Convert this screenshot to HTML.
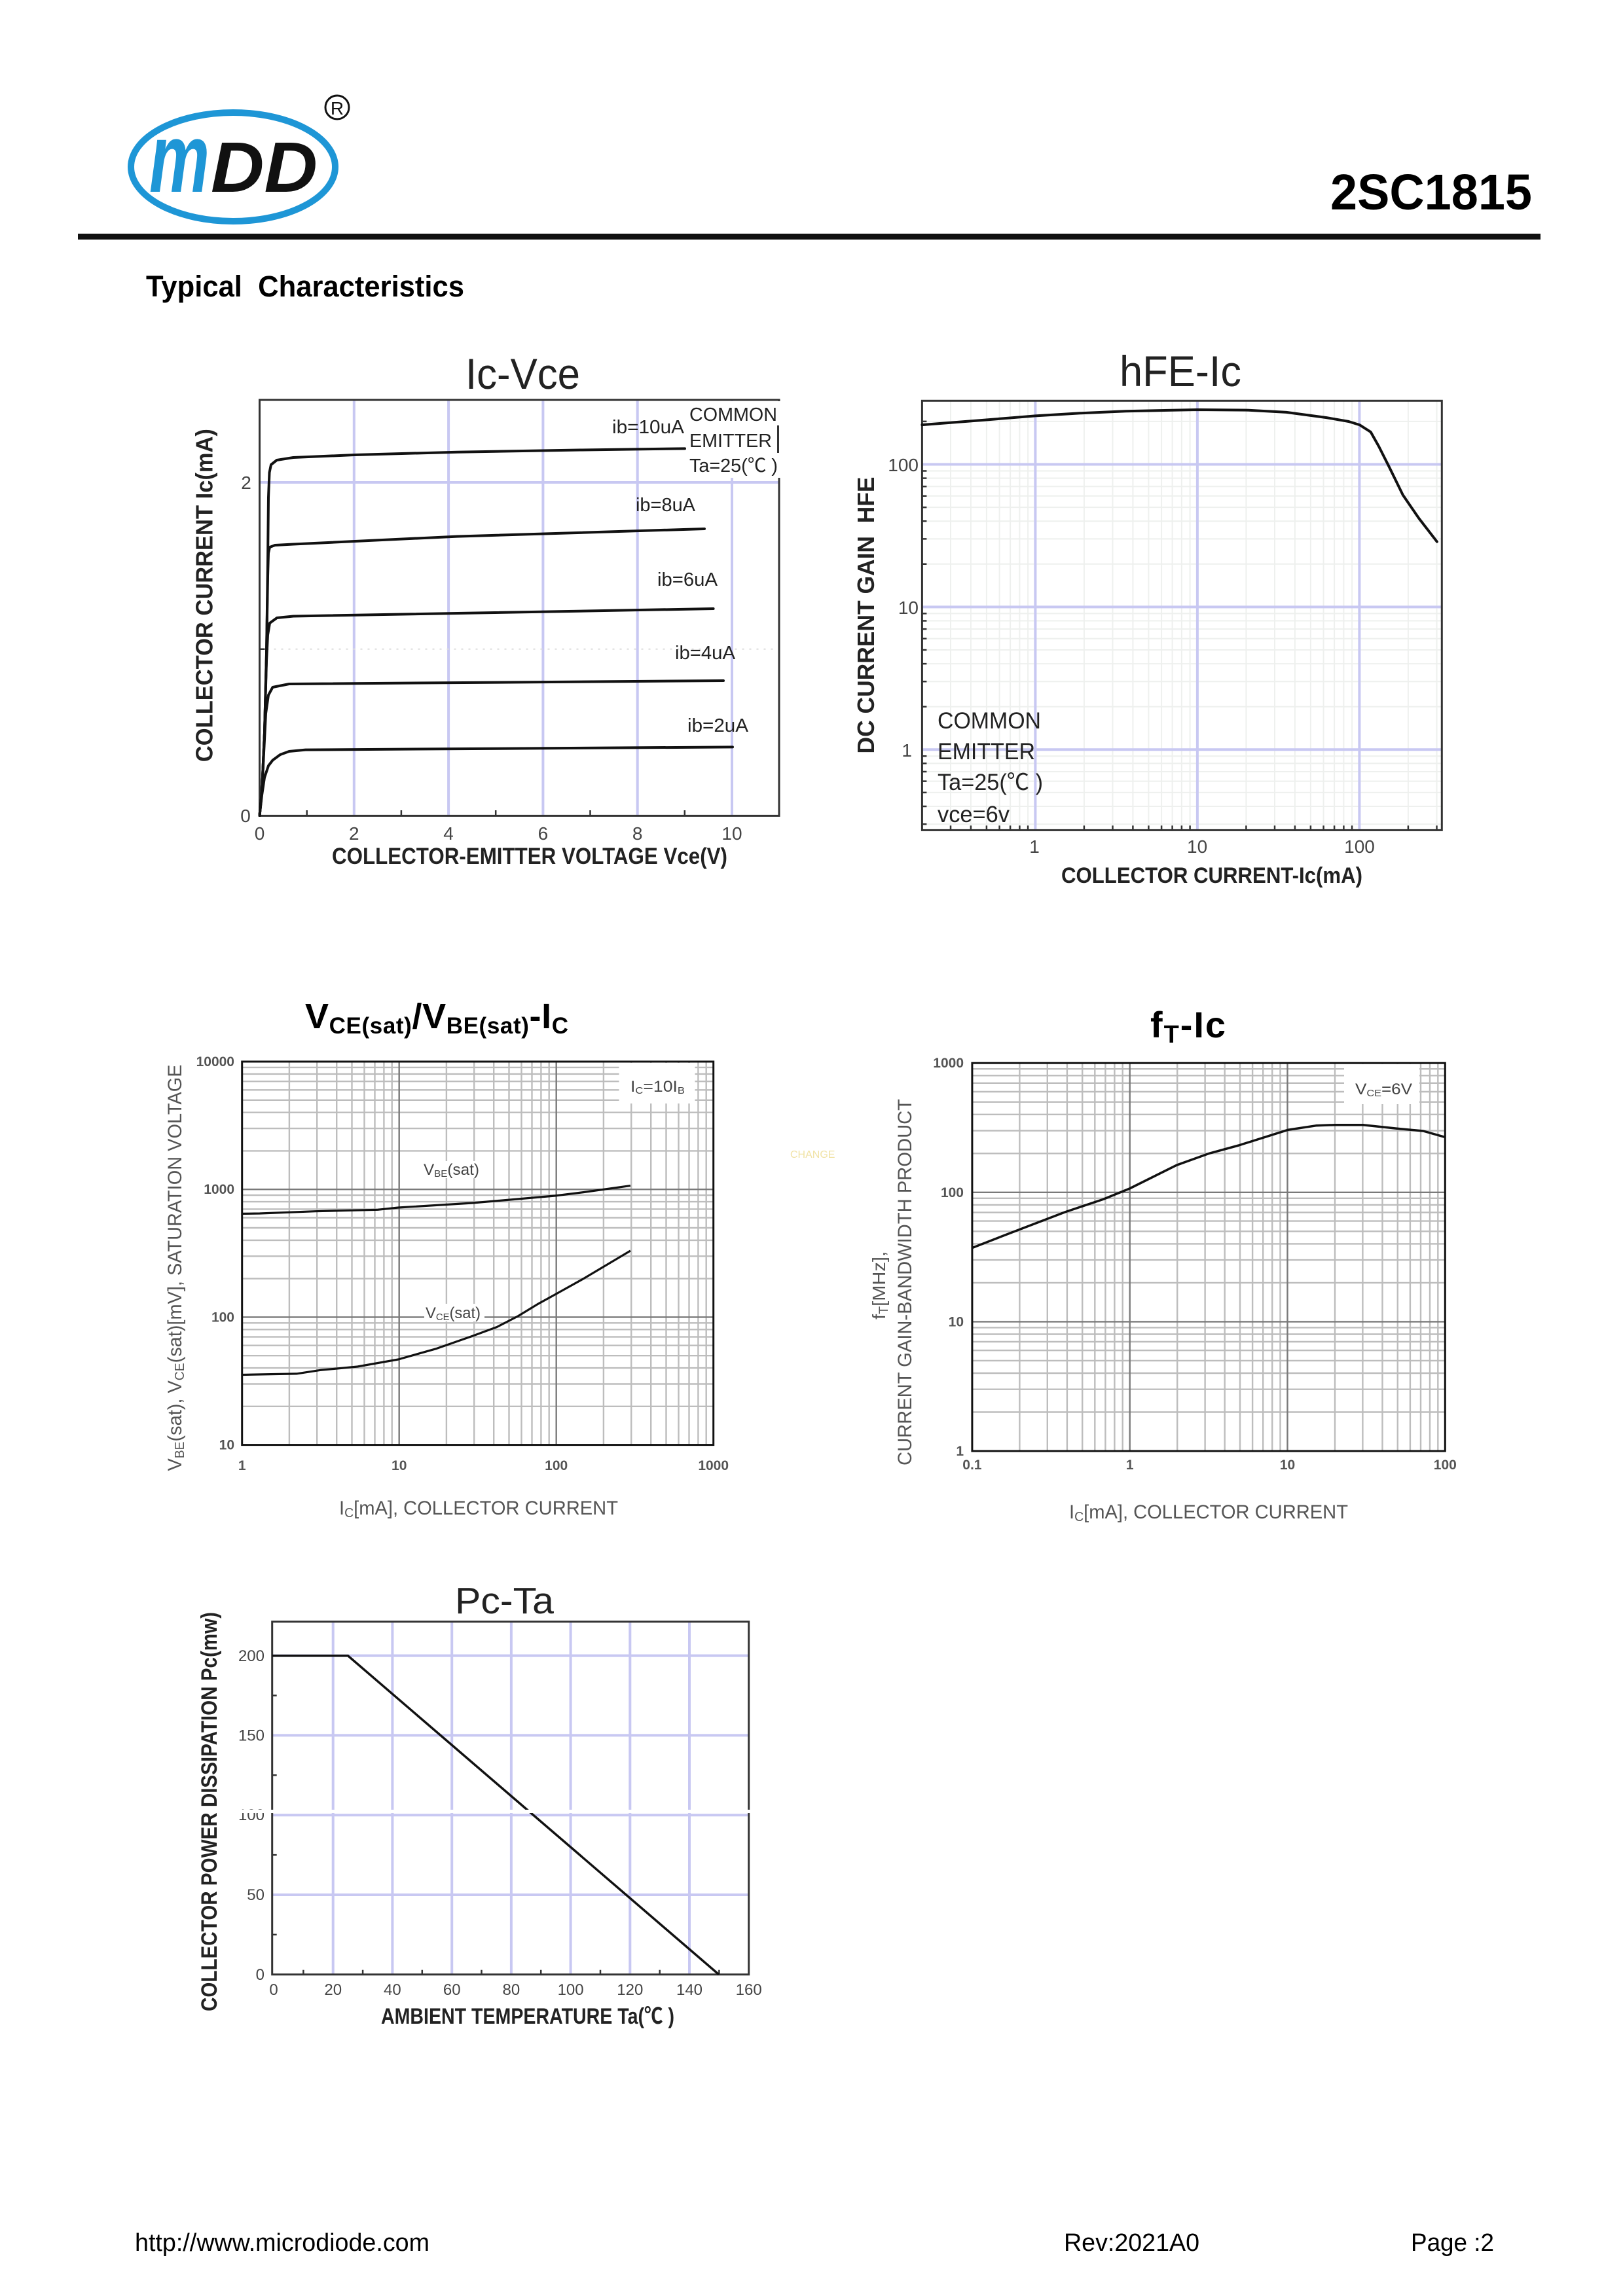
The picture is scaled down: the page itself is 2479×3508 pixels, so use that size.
<!DOCTYPE html>
<html>
<head>
<meta charset="utf-8">
<style>
html,body{margin:0;padding:0;background:#fff;}
svg{display:block;}
</style>
</head>
<body>
<svg xmlns="http://www.w3.org/2000/svg" width="2479" height="3508" viewBox="0 0 2479 3508" font-family="'Liberation Sans','Noto Sans CJK SC',sans-serif">
<rect x="0" y="0" width="2479" height="3508" fill="#fff"/>

<!-- ================= HEADER ================= -->
<ellipse cx="356" cy="255" rx="156" ry="83" fill="none" stroke="#1e96d6" stroke-width="10"/>
<text x="228" y="293" font-size="150" font-weight="bold" font-style="italic" fill="#1e96d6" textLength="92" lengthAdjust="spacingAndGlyphs">m</text>
<text x="322" y="293" font-size="109" font-weight="bold" font-style="italic" fill="#111" textLength="163" lengthAdjust="spacingAndGlyphs">DD</text>
<circle cx="515" cy="164" r="18" fill="none" stroke="#111" stroke-width="3"/>
<text x="515" y="175" font-size="28" text-anchor="middle" fill="#111">R</text>
<text x="2340" y="320" font-size="77" font-weight="bold" text-anchor="end" fill="#000" textLength="308" lengthAdjust="spacingAndGlyphs">2SC1815</text>
<rect x="119" y="357" width="2234" height="9" fill="#111"/>
<text x="223" y="453" font-size="45" font-weight="bold" fill="#000" textLength="486" lengthAdjust="spacingAndGlyphs">Typical&#160; Characteristics</text>

<!-- ================= Ic-Vce ================= -->
<text x="711" y="594" font-size="66" fill="#222" textLength="175" lengthAdjust="spacingAndGlyphs">Ic-Vce</text>
<g stroke="#c8c8f2" stroke-width="4" fill="none">
  <path d="M540.8,611V1246M685.1,611V1246M829.4,611V1246M973.7,611V1246M1118,611V1246M396.5,737H1190"/>
</g>
<path d="M396.5,991.7H1190" stroke="#ddd" stroke-width="2" stroke-dasharray="3 8" fill="none"/>
<rect x="396.5" y="611" width="793.5" height="635.4" fill="none" stroke="#333" stroke-width="3"/>
<path d="M468.7,1246v-8M612.9,1246v-8M757.2,1246v-8M901.5,1246v-8M1045.8,1246v-8M396.5,991.7h8" stroke="#333" stroke-width="2.5" fill="none"/>
<rect x="1050" y="613" width="143" height="117" fill="#fff"/>
<path d="M1188.5,650V692" stroke="#333" stroke-width="3"/>
<g fill="none" stroke="#111" stroke-width="4" stroke-linejoin="round" stroke-linecap="round">
  <path d="M396.5,1246 L400,1210 L404,1120 L407,1000 L409,860 L410,760 L411.5,722 L414,710 L422.8,703 L447.9,699 L541.8,695 L698.3,690.7 L886,687.5 L1046,685.4"/>
  <path d="M396.5,1246 L400,1210 L404,1120 L407,1000 L409,880 L410,845 L412,836 L420,833 L448,831.5 L698,819.6 L1076,808"/>
  <path d="M396.5,1246 L400,1210 L404,1120 L407,1010 L409,970 L412,952 L423,944 L448,941.5 L1089.6,930"/>
  <path d="M396.5,1246 L400,1210 L403,1150 L406,1090 L410,1062 L416.5,1050 L441.6,1045 L1105,1040"/>
  <path d="M396.5,1246 L400,1215 L404,1188 L410,1170 L416.5,1161.5 L428,1153 L441.6,1148 L466.6,1145.6 L1119,1141.4"/>
</g>
<g font-size="29" fill="#222">
  <text x="935" y="662" textLength="110" lengthAdjust="spacingAndGlyphs">ib=10uA</text>
  <text x="1053" y="643" textLength="134" lengthAdjust="spacingAndGlyphs">COMMON</text>
  <text x="1053" y="683" textLength="126" lengthAdjust="spacingAndGlyphs">EMITTER</text>
  <text x="1053" y="721" textLength="135" lengthAdjust="spacingAndGlyphs">Ta=25(℃ )</text>
  <text x="971" y="781" textLength="91" lengthAdjust="spacingAndGlyphs">ib=8uA</text>
  <text x="1004" y="895" textLength="92" lengthAdjust="spacingAndGlyphs">ib=6uA</text>
  <text x="1031" y="1007" textLength="92" lengthAdjust="spacingAndGlyphs">ib=4uA</text>
  <text x="1050" y="1118" textLength="93" lengthAdjust="spacingAndGlyphs">ib=2uA</text>
</g>
<g font-size="28" fill="#444" text-anchor="middle">
  <text x="396.5" y="1283">0</text>
  <text x="540.8" y="1283">2</text>
  <text x="685.1" y="1283">4</text>
  <text x="829.4" y="1283">6</text>
  <text x="973.7" y="1283">8</text>
  <text x="1118" y="1283">10</text>
  <text x="376" y="747">2</text>
  <text x="375" y="1256">0</text>
</g>
<text x="809" y="1320" font-size="35" font-weight="bold" fill="#222" text-anchor="middle" textLength="604" lengthAdjust="spacingAndGlyphs">COLLECTOR-EMITTER VOLTAGE Vce(V)</text>
<text transform="translate(311.6,909.6) rotate(-90)" x="0" y="13" font-size="36" font-weight="bold" fill="#222" text-anchor="middle" textLength="509" lengthAdjust="spacingAndGlyphs">COLLECTOR CURRENT Ic(mA)</text>

<!-- ================= hFE-Ic ================= -->
<text x="1710" y="590" font-size="66" fill="#222" textLength="186" lengthAdjust="spacingAndGlyphs">hFE-Ic</text>
<path d="M1452,612.3V1268.4M1482.9,612.3V1268.4M1506.9,612.3V1268.4M1526.6,612.3V1268.4M1543.1,612.3V1268.4M1557.4,612.3V1268.4M1570.1,612.3V1268.4M1655.9,612.3V1268.4M1699.5,612.3V1268.4M1730.4,612.3V1268.4M1754.4,612.3V1268.4M1774.1,612.3V1268.4M1790.6,612.3V1268.4M1804.9,612.3V1268.4M1817.6,612.3V1268.4M1903.4,612.3V1268.4M1947,612.3V1268.4M1977.9,612.3V1268.4M2001.9,612.3V1268.4M2021.6,612.3V1268.4M2038.1,612.3V1268.4M2052.4,612.3V1268.4M2065.1,612.3V1268.4M2150.9,612.3V1268.4M2194.5,612.3V1268.4
M1408.4,1259.2H2202.3M1408.4,1232H2202.3M1408.4,1210.9H2202.3M1408.4,1193.6H2202.3M1408.4,1179H2202.3M1408.4,1166.4H2202.3M1408.4,1155.3H2202.3M1408.4,1079.7H2202.3M1408.4,1041.3H2202.3M1408.4,1014.1H2202.3M1408.4,993H2202.3M1408.4,975.7H2202.3M1408.4,961.1H2202.3M1408.4,948.5H2202.3M1408.4,937.4H2202.3M1408.4,861.8H2202.3M1408.4,823.4H2202.3M1408.4,796.2H2202.3M1408.4,775.1H2202.3M1408.4,757.8H2202.3M1408.4,743.2H2202.3M1408.4,730.6H2202.3M1408.4,719.5H2202.3M1408.4,643.9H2202.3" stroke="#eef0ee" stroke-width="2" fill="none"/>
<path d="M1581.4,612.3V1268.4M1828.9,612.3V1268.4M2076.4,612.3V1268.4M1408.4,1145.3H2202.3M1408.4,927.4H2202.3M1408.4,709.5H2202.3" stroke="#c8c8f2" stroke-width="4" fill="none"/>
<rect x="1408.4" y="612.3" width="793.9" height="656.1" fill="none" stroke="#333" stroke-width="3"/>
<path d="M1408.4,1259.2h7M1408.4,1232h7M1408.4,1210.9h7M1408.4,1193.6h7M1408.4,1179h7M1408.4,1166.4h7M1408.4,1155.3h7M1408.4,1079.7h7M1408.4,1041.3h7M1408.4,1014.1h7M1408.4,993h7M1408.4,975.7h7M1408.4,961.1h7M1408.4,948.5h7M1408.4,937.4h7M1408.4,861.8h7M1408.4,823.4h7M1408.4,796.2h7M1408.4,775.1h7M1408.4,757.8h7M1408.4,743.2h7M1408.4,730.6h7M1408.4,719.5h7M1408.4,643.9h7
M1452,1268.4v-7M1482.9,1268.4v-7M1506.9,1268.4v-7M1526.6,1268.4v-7M1543.1,1268.4v-7M1557.4,1268.4v-7M1570.1,1268.4v-7M1655.9,1268.4v-7M1699.5,1268.4v-7M1730.4,1268.4v-7M1754.4,1268.4v-7M1774.1,1268.4v-7M1790.6,1268.4v-7M1804.9,1268.4v-7M1817.6,1268.4v-7M1903.4,1268.4v-7M1947,1268.4v-7M1977.9,1268.4v-7M2001.9,1268.4v-7M2021.6,1268.4v-7M2038.1,1268.4v-7M2052.4,1268.4v-7M2065.1,1268.4v-7M2150.9,1268.4v-7M2194.5,1268.4v-7" stroke="#333" stroke-width="2.5" fill="none"/>
<path d="M1408.4,649.1 L1500,642 L1581.4,635.4 L1650,631.3 L1719.5,628.2 L1828.6,626 L1903.5,626.6 L1964.8,629.9 L2026.2,638.1 L2060,644 L2076.5,649.1 L2093.7,660.1 L2106,682 L2121.3,712.3 L2142.8,756.3 L2167.3,792 L2194.9,827.7" fill="none" stroke="#111" stroke-width="4" stroke-linejoin="round" stroke-linecap="round"/>
<g font-size="35" fill="#222">
  <text x="1432" y="1113" textLength="158" lengthAdjust="spacingAndGlyphs">COMMON</text>
  <text x="1432" y="1160" textLength="149" lengthAdjust="spacingAndGlyphs">EMITTER</text>
  <text x="1432" y="1207" textLength="161" lengthAdjust="spacingAndGlyphs">Ta=25(℃ )</text>
  <text x="1432" y="1256" textLength="110" lengthAdjust="spacingAndGlyphs">vce=6v</text>
</g>
<g font-size="28" fill="#444">
  <text x="1403" y="720" text-anchor="end">100</text>
  <text x="1403" y="938" text-anchor="end">10</text>
  <text x="1393" y="1156" text-anchor="end">1</text>
  <text x="1580" y="1303" text-anchor="middle">1</text>
  <text x="1828.6" y="1303" text-anchor="middle">10</text>
  <text x="2076.5" y="1303" text-anchor="middle">100</text>
</g>
<text x="1851" y="1349" font-size="34" font-weight="bold" fill="#222" text-anchor="middle" textLength="460" lengthAdjust="spacingAndGlyphs">COLLECTOR CURRENT-Ic(mA)</text>
<text transform="translate(1322,940) rotate(-90)" x="0" y="13" font-size="36" font-weight="bold" fill="#222" text-anchor="middle" textLength="423" lengthAdjust="spacingAndGlyphs">DC CURRENT GAIN&#160; HFE</text>

<!-- ================= VCE(sat)/VBE(sat)-Ic ================= -->
<text x="466" y="1571" font-size="54" font-weight="bold" fill="#000" textLength="402">V<tspan font-size="35" dy="8">CE(sat)</tspan><tspan dy="-8">/V</tspan><tspan font-size="35" dy="8">BE(sat)</tspan><tspan dy="-8">-I</tspan><tspan font-size="35" dy="8">C</tspan></text>
<path d="M441.9,1622V2207.6M484.2,1622V2207.6M514.2,1622V2207.6M537.5,1622V2207.6M556.5,1622V2207.6M572.5,1622V2207.6M586.4,1622V2207.6M598.7,1622V2207.6M681.9,1622V2207.6M724.2,1622V2207.6M754.2,1622V2207.6M777.5,1622V2207.6M796.5,1622V2207.6M812.5,1622V2207.6M826.4,1622V2207.6M838.7,1622V2207.6M921.9,1622V2207.6M964.2,1622V2207.6M994.2,1622V2207.6M1017.5,1622V2207.6M1036.5,1622V2207.6M1052.5,1622V2207.6M1066.4,1622V2207.6M1078.7,1622V2207.6
M369.7,2148.8H1089.7M369.7,2114.5H1089.7M369.7,2090.1H1089.7M369.7,2071.2H1089.7M369.7,2055.7H1089.7M369.7,2042.6H1089.7M369.7,2031.3H1089.7M369.7,2021.3H1089.7M369.7,1953.6H1089.7M369.7,1919.3H1089.7M369.7,1894.9H1089.7M369.7,1876H1089.7M369.7,1860.5H1089.7M369.7,1847.4H1089.7M369.7,1836.1H1089.7M369.7,1826.1H1089.7M369.7,1758.4H1089.7M369.7,1724.1H1089.7M369.7,1699.7H1089.7M369.7,1680.8H1089.7M369.7,1665.3H1089.7M369.7,1652.2H1089.7M369.7,1640.9H1089.7M369.7,1630.9H1089.7" stroke="#bdbdbd" stroke-width="2.4" fill="none"/>
<path d="M609.7,1622V2207.6M849.7,1622V2207.6M369.7,1817.2H1089.7M369.7,2012.4H1089.7" stroke="#7a7a7a" stroke-width="2.4" fill="none"/>
<rect x="945.5" y="1624" width="116" height="62" fill="#fff"/>
<rect x="369.7" y="1622" width="720" height="585.6" fill="none" stroke="#111" stroke-width="3"/>
<rect x="645" y="1774" width="92" height="26" fill="#fff"/>
<rect x="648" y="1992" width="92" height="27" fill="#fff"/>
<path d="M369.7,1854.4 L396.7,1854 L481.7,1850.7 L577,1848.3 L608.4,1845 L721.7,1838 L847.6,1827 L891.9,1821.5 L962.9,1811.6" fill="none" stroke="#111" stroke-width="3.2" stroke-linejoin="round"/>
<path d="M369.7,2100.5 L453,2098.9 L488.8,2093.4 L546,2088 L608.4,2077 L667,2060.4 L721.7,2041.2 L759,2027.5 L791,2011 L822.6,1991.8 L847.6,1978 L891.9,1953.3 L962.9,1911" fill="none" stroke="#111" stroke-width="3.2" stroke-linejoin="round"/>
<g fill="#444" font-size="24">
  <text x="647" y="1795" textLength="85" lengthAdjust="spacingAndGlyphs">V<tspan font-size="15" dy="3">BE</tspan><tspan dy="-3">(sat)</tspan></text>
  <text x="650" y="2014" textLength="84" lengthAdjust="spacingAndGlyphs">V<tspan font-size="15" dy="3">CE</tspan><tspan dy="-3">(sat)</tspan></text>
  <text x="963" y="1668" textLength="83" lengthAdjust="spacingAndGlyphs">I<tspan font-size="15" dy="3">C</tspan><tspan dy="-3">=10I</tspan><tspan font-size="15" dy="3">B</tspan></text>
</g>
<g font-size="21" font-weight="bold" fill="#555">
  <text x="358" y="1629" text-anchor="end">10000</text>
  <text x="358" y="1824" text-anchor="end">1000</text>
  <text x="358" y="2019.5" text-anchor="end">100</text>
  <text x="358" y="2214.6" text-anchor="end">10</text>
  <text x="369.7" y="2246" text-anchor="middle">1</text>
  <text x="609.7" y="2246" text-anchor="middle">10</text>
  <text x="849.7" y="2246" text-anchor="middle">100</text>
  <text x="1089.7" y="2246" text-anchor="middle">1000</text>
</g>
<text x="731" y="2314" font-size="30" fill="#555" text-anchor="middle" textLength="426" lengthAdjust="spacingAndGlyphs">I<tspan font-size="20" dy="4">C</tspan><tspan dy="-4">[mA], COLLECTOR CURRENT</tspan></text>
<text transform="translate(266,1937) rotate(-90)" x="0" y="11" font-size="30" fill="#555" text-anchor="middle" textLength="621" lengthAdjust="spacingAndGlyphs">V<tspan font-size="20" dy="4">BE</tspan><tspan dy="-4">(sat), V</tspan><tspan font-size="20" dy="4">CE</tspan><tspan dy="-4">(sat)[mV], SATURATION VOLTAGE</tspan></text>

<text x="1207" y="1769" font-size="16" fill="#f1e3a6">CHANGE</text>

<!-- ================= fT-Ic ================= -->
<text x="1757" y="1585" font-size="56" font-weight="bold" fill="#000" textLength="115">f<tspan font-size="38" dy="8">T</tspan><tspan dy="-8">-Ic</tspan></text>
<path d="M1557.4,1624.2V2217M1599.8,1624.2V2217M1629.9,1624.2V2217M1653.2,1624.2V2217M1672.3,1624.2V2217M1688.4,1624.2V2217M1702.4,1624.2V2217M1714.7,1624.2V2217M1798.2,1624.2V2217M1840.6,1624.2V2217M1870.7,1624.2V2217M1894,1624.2V2217M1913.1,1624.2V2217M1929.2,1624.2V2217M1943.2,1624.2V2217M1955.5,1624.2V2217M2039,1624.2V2217M2081.4,1624.2V2217M2111.5,1624.2V2217M2134.8,1624.2V2217M2153.9,1624.2V2217M2170,1624.2V2217M2184,1624.2V2217M2196.3,1624.2V2217
M1484.9,2157.5H2207.3M1484.9,2122.7H2207.3M1484.9,2098H2207.3M1484.9,2078.9H2207.3M1484.9,2063.2H2207.3M1484.9,2050H2207.3M1484.9,2038.5H2207.3M1484.9,2028.4H2207.3M1484.9,1959.9H2207.3M1484.9,1925.1H2207.3M1484.9,1900.4H2207.3M1484.9,1881.3H2207.3M1484.9,1865.6H2207.3M1484.9,1852.4H2207.3M1484.9,1840.9H2207.3M1484.9,1830.8H2207.3M1484.9,1762.3H2207.3M1484.9,1727.5H2207.3M1484.9,1702.8H2207.3M1484.9,1683.7H2207.3M1484.9,1668H2207.3M1484.9,1654.8H2207.3M1484.9,1643.3H2207.3M1484.9,1633.2H2207.3" stroke="#bdbdbd" stroke-width="2.4" fill="none"/>
<path d="M1725.7,1624.2V2217M1966.5,1624.2V2217M1484.9,2019.4H2207.3M1484.9,1821.8H2207.3" stroke="#7a7a7a" stroke-width="2.4" fill="none"/>
<rect x="2053" y="1626" width="115" height="61" fill="#fff"/>
<rect x="1484.9" y="1624.2" width="722.4" height="592.8" fill="none" stroke="#111" stroke-width="3"/>
<path d="M1484.9,1906.6 L1530,1889 L1570,1873.6 L1627.5,1851.6 L1685,1832.4 L1725.3,1816 L1797.2,1780.2 L1846,1762.6 L1892,1750 L1966.8,1726.4 L2010,1719.8 L2038.7,1718.7 L2081.8,1718.7 L2133.6,1724.2 L2173.8,1728 L2207.2,1737.4" fill="none" stroke="#111" stroke-width="3.5" stroke-linejoin="round"/>
<text x="2070" y="1672" font-size="24" fill="#444" textLength="87" lengthAdjust="spacingAndGlyphs">V<tspan font-size="15" dy="3">CE</tspan><tspan dy="-3">=6V</tspan></text>
<g font-size="21" font-weight="bold" fill="#555">
  <text x="1472" y="1631" text-anchor="end">1000</text>
  <text x="1472" y="1829" text-anchor="end">100</text>
  <text x="1472" y="2026.5" text-anchor="end">10</text>
  <text x="1472" y="2224" text-anchor="end">1</text>
  <text x="1484.9" y="2245" text-anchor="middle">0.1</text>
  <text x="1725.7" y="2245" text-anchor="middle">1</text>
  <text x="1966.5" y="2245" text-anchor="middle">10</text>
  <text x="2207.3" y="2245" text-anchor="middle">100</text>
</g>
<text x="1846" y="2320" font-size="30" fill="#555" text-anchor="middle" textLength="426" lengthAdjust="spacingAndGlyphs">I<tspan font-size="20" dy="4">C</tspan><tspan dy="-4">[mA], COLLECTOR CURRENT</tspan></text>
<text transform="translate(1342,1964) rotate(-90)" x="0" y="10" font-size="28" fill="#555" text-anchor="middle" textLength="104" lengthAdjust="spacingAndGlyphs">f<tspan font-size="19" dy="4">T</tspan><tspan dy="-4">[MHz],</tspan></text>
<text transform="translate(1381,1959) rotate(-90)" x="0" y="11" font-size="30" fill="#555" text-anchor="middle" textLength="560" lengthAdjust="spacingAndGlyphs">CURRENT GAIN-BANDWIDTH PRODUCT</text>

<!-- ================= Pc-Ta ================= -->
<text x="695" y="2465" font-size="57" fill="#222" textLength="151" lengthAdjust="spacingAndGlyphs">Pc-Ta</text>
<path d="M508.7,2477.7V3016.8M599.4,2477.7V3016.8M690.2,2477.7V3016.8M780.9,2477.7V3016.8M871.6,2477.7V3016.8M962.3,2477.7V3016.8M1053,2477.7V3016.8M415.7,2895H1143.7M415.7,2773.2H1143.7M415.7,2651.4H1143.7M415.7,2529.6H1143.7" stroke="#c8c8f2" stroke-width="4" fill="none"/>
<rect x="415.7" y="2477.7" width="728" height="539.1" fill="none" stroke="#333" stroke-width="3"/>
<path d="M463.4,3016.8v-7M554.1,3016.8v-7M644.8,3016.8v-7M735.5,3016.8v-7M826.2,3016.8v-7M917,3016.8v-7M1007.7,3016.8v-7M1098.4,3016.8v-7M415.7,2955.9h7M415.7,2834.1h7M415.7,2712.3h7M415.7,2590.5h7" stroke="#333" stroke-width="2.5" fill="none"/>
<path d="M415.7,2529.7 L531.4,2529.7 L1098,3016.8" fill="none" stroke="#111" stroke-width="3.5" stroke-linejoin="round"/>
<g font-size="24" fill="#444">
  <text x="404" y="2538" text-anchor="end">200</text>
  <text x="404" y="2659.5" text-anchor="end">150</text>
  <text x="404" y="2781" text-anchor="end">100</text>
  <text x="404" y="2903" text-anchor="end">50</text>
  <text x="404" y="3025" text-anchor="end">0</text>
  <text x="418" y="3048" text-anchor="middle">0</text>
  <text x="508.7" y="3048" text-anchor="middle">20</text>
  <text x="599.4" y="3048" text-anchor="middle">40</text>
  <text x="690.2" y="3048" text-anchor="middle">60</text>
  <text x="780.9" y="3048" text-anchor="middle">80</text>
  <text x="871.6" y="3048" text-anchor="middle">100</text>
  <text x="962.3" y="3048" text-anchor="middle">120</text>
  <text x="1053" y="3048" text-anchor="middle">140</text>
  <text x="1143.7" y="3048" text-anchor="middle">160</text>
</g>
<rect x="360" y="2765" width="800" height="5" fill="#fff"/>
<text x="806" y="3092" font-size="34" font-weight="bold" fill="#222" text-anchor="middle" textLength="448" lengthAdjust="spacingAndGlyphs">AMBIENT TEMPERATURE Ta(℃ )</text>
<text transform="translate(319,2768) rotate(-90)" x="0" y="12" font-size="34" font-weight="bold" fill="#222" text-anchor="middle" textLength="610" lengthAdjust="spacingAndGlyphs">COLLECTOR POWER DISSIPATION Pc(mw)</text>

<!-- ================= FOOTER ================= -->
<g font-size="38" fill="#000">
  <text x="206" y="3439" textLength="450" lengthAdjust="spacingAndGlyphs">http://www.microdiode.com</text>
  <text x="1625" y="3439" textLength="207" lengthAdjust="spacingAndGlyphs">Rev:2021A0</text>
  <text x="2155" y="3439" textLength="127" lengthAdjust="spacingAndGlyphs">Page :2</text>
</g>
</svg>
</body>
</html>
